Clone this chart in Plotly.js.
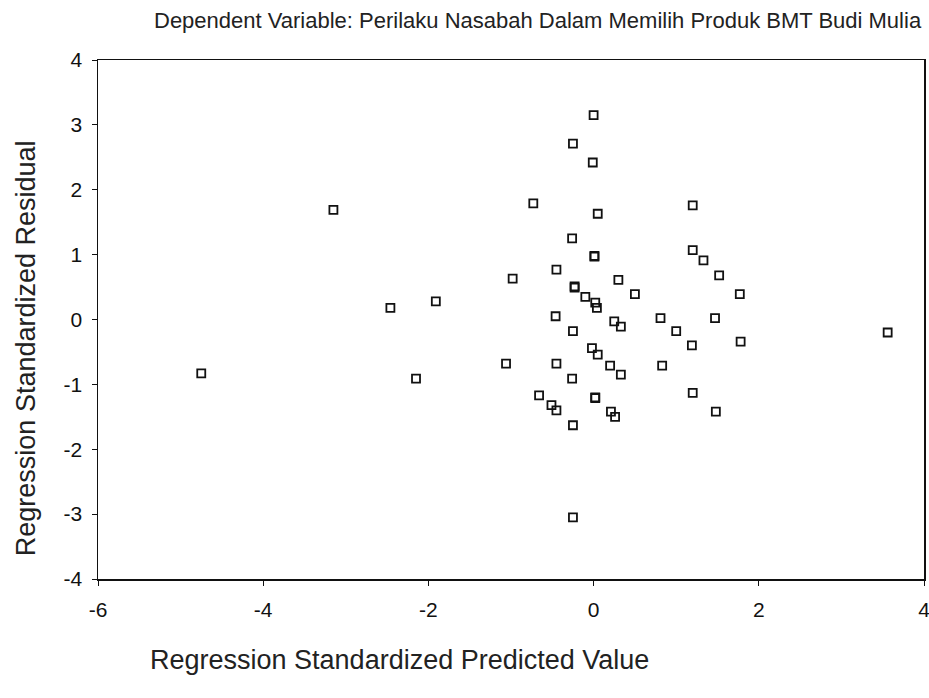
<!DOCTYPE html>
<html><head><meta charset="utf-8">
<script src="https://cdn.plot.ly/plotly-3.0.1.min.js"></script>
<style>html,body{margin:0;padding:0;background:#fff;}#chart{width:929px;height:698px;}</style>
</head><body><div id="chart"></div>
<script>
const predicted = [-4.75,-3.15,-2.46,-1.91,-2.15,-1.06,-0.98,-0.73,-0.25,0.00,-0.01,0.05,-0.26,0.01,0.01,-0.45,-0.23,-0.23,-0.10,0.02,0.04,0.30,0.50,1.20,1.20,1.33,1.52,1.77,-0.46,-0.25,0.25,0.33,0.81,1.00,1.47,1.19,1.78,3.56,-0.45,-0.02,0.05,0.20,0.33,0.83,-0.26,-0.66,-0.51,-0.45,0.02,0.02,1.20,0.21,0.26,1.48,-0.25,-0.25];
const residual  = [-0.83,1.69,0.18,0.28,-0.91,-0.68,0.63,1.79,2.71,3.15,2.42,1.63,1.25,0.97,0.98,0.77,0.51,0.49,0.35,0.26,0.18,0.61,0.39,1.76,1.07,0.91,0.68,0.39,0.05,-0.18,-0.03,-0.11,0.02,-0.18,0.02,-0.40,-0.34,-0.20,-0.68,-0.44,-0.54,-0.71,-0.85,-0.71,-0.91,-1.17,-1.32,-1.40,-1.20,-1.21,-1.13,-1.42,-1.50,-1.42,-1.63,-3.05];
const xTicks = [-6,-4,-2,0,2,4];
const yTicks = [-4,-3,-2,-1,0,1,2,3,4];
const titleText = "Dependent Variable: Perilaku Nasabah Dalam Memilih Produk BMT Budi Mulia";
const xTitle = "Regression Standardized Predicted Value";
const yTitle = "Regression Standardized Residual";

const font = "Liberation Sans, Arial, sans-serif";
const trace = {
  x: predicted, y: residual, type: "scatter", mode: "markers",
  marker: {symbol: "square-open", size: 8, color: "#111", line: {width: 1.8, color: "#111"}},
  hoverinfo: "x+y"
};
const axisCommon = {
  showgrid: false, zeroline: false, showline: true, linecolor: "#111", linewidth: 1.5,
  mirror: true, ticks: "outside", ticklen: 5, tickcolor: "#111", tickwidth: 1,
  ticklabeloverflow: "allow",
  tickfont: {family: font, size: 21, color: "#111"}
};
const layout = {
  width: 929, height: 698,
  margin: {l: 98, r: 5, t: 60, b: 119},
  paper_bgcolor: "#fff", plot_bgcolor: "#fff",
  showlegend: false,
  xaxis: Object.assign({}, axisCommon, {range: [-6, 4], tickvals: xTicks, ticktext: xTicks.map(String), ticklabelstandoff: 6}),
  yaxis: Object.assign({}, axisCommon, {range: [-4, 4], tickvals: yTicks, ticktext: yTicks.map(String), ticklabelstandoff: 5}),
  annotations: [
    {text: titleText, xref: "paper", yref: "paper", x: 1, y: 1, yshift: 40, xanchor: "right", yanchor: "middle",
     showarrow: false, font: {family: font, size: 22, color: "#222"}},
    {text: xTitle, xref: "paper", yref: "paper", x: 0.0605, y: 0, yshift: -81, xanchor: "left", yanchor: "middle",
     showarrow: false, font: {family: font, size: 27, color: "#222"}},
    {text: yTitle, xref: "paper", yref: "paper", x: -0.087, y: 0.445, xanchor: "center", yanchor: "middle",
     textangle: -90, showarrow: false, font: {family: font, size: 27, color: "#222"}}
  ]
};
Plotly.newPlot("chart", [trace], layout, {displayModeBar: false, staticPlot: true});
</script></body></html>
